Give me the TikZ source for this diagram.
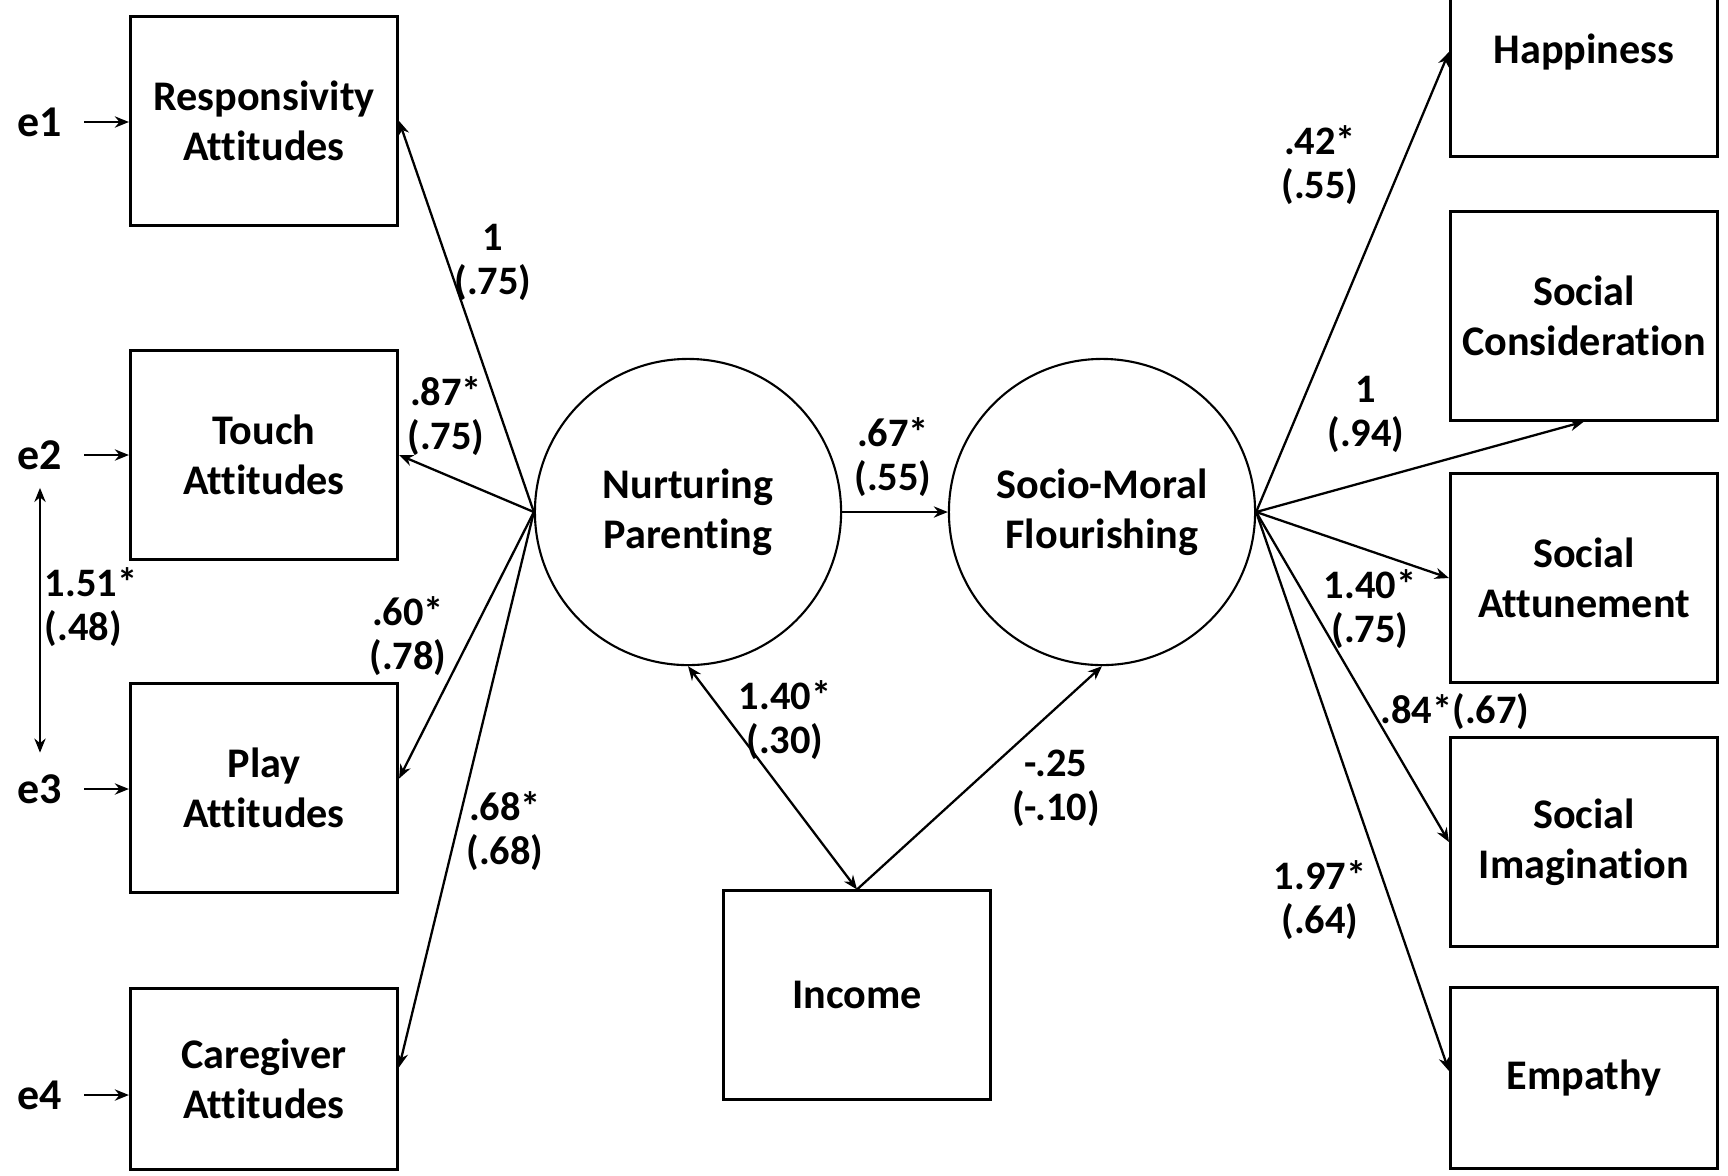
\documentclass[tikz,border=0pt]{standalone}
\usepackage{fontspec}
\setmainfont{Carlito}[Ligatures=NoCommon]
\usetikzlibrary{arrows.meta,calc}
\tikzset{
  obs/.style={draw, line width=0.85pt, minimum width=2.67cm, minimum height=2.08cm,
    inner sep=0pt, align=center, font=\fontsize{12}{14.3}\selectfont\bfseries},
  lat/.style={draw, circle, line width=0.6pt, minimum size=3.06cm,
    inner sep=0pt, align=center, font=\fontsize{12}{14.3}\selectfont\bfseries},
  err/.style={inner sep=2pt, font=\fontsize{12.5}{14}\selectfont\bfseries},
  lbl/.style={inner sep=0pt, align=center, font=\fontsize{11.5}{12.5}\selectfont\bfseries},
  arr/.style={line width=0.65pt, -{Stealth[length=4pt,width=3.2pt]}},
  dbl/.style={line width=0.65pt, {Stealth[length=4pt,width=3.2pt]}-{Stealth[length=4pt,width=3.2pt]}}
}
\begin{document}
\begin{tikzpicture}[x=0.01cm, y=-0.01cm]
    \useasboundingbox (0,0) rectangle (1728,1175);
    \clip (0,0) rectangle (1728,1175);

    % 左侧观测变量
    \node[obs] (resp) at (264,121) {Responsivity\\Attitudes};
    \node[obs] (touch) at (264,455) {Touch\\Attitudes};
    \node[obs] (play) at (264,788) {Play\\Attitudes};
    \node[obs, minimum height=1.8cm] (care) at (264,1079) {Caregiver\\Attitudes};

    % 误差项
    \node[err] (e1) at (40,122) {e1};
    \node[err] (e2) at (40,455) {e2};
    \node[err] (e3) at (40,789) {e3};
    \node[err] (e4) at (40,1095) {e4};
    \foreach \e/\b in {e1/resp, e2/touch, e3/play, e4/care}
        \draw[arr, shorten <=4pt] (\e) -- (\e -| \b.west);
    \draw[dbl, shorten <=3pt, shorten >=4pt] (e2.south) -- (e3.north);
    \node[lbl, anchor=west, align=left] (c23) at (44,607) {1.51*\\(.48)};

    % 潜变量
    \node[lat] (np) at (688,512) {Nurturing\\Parenting};
    \node[lat] (smf) at (1102,512) {Socio-Moral\\Flourishing};
    \draw[arr] (np.east) -- (smf.west);
    \node[lbl] (l67) at (893,457) {.67*\\(.55)};

    % 收入
    \node[obs] (inc) at (857,995) {Income};
    \draw[dbl] (np.south) -- (inc.north);
    \draw[arr] (inc.north) -- (smf.south);
    \node[lbl] (l140a) at (785,720) {1.40*\\(.30)};
    \node[lbl] (l25) at (1056,788) {-.25\\(-.10)};

    % 载荷（左）
    \draw[arr] (np.west) -- (resp.east);
    \draw[arr] (np.west) -- (touch.east);
    \draw[arr] (np.west) -- (play.4);
    \draw[arr] (np.west) -- (care.5);
    \node[lbl] (l1a) at (493,262) {1\\(.75)};
    \node[lbl] (l87) at (446,416) {.87*\\(.75)};
    \node[lbl] (l60) at (408,636) {.60*\\(.78)};
    \node[lbl] (l68) at (505,831) {.68*\\(.68)};

    % 右侧观测变量
    \node[obs] (happy) at (1584,52) {Happiness};
    \node[obs] (scons) at (1584,316) {Social\\Consideration};
    \node[obs] (satt) at (1584,578) {Social\\Attunement};
    \node[obs] (simag) at (1584,842) {Social\\Imagination};
    \node[obs, minimum height=1.8cm] (emp) at (1584,1078) {Empathy};

    % 载荷（右）
    \draw[arr] (smf.east) -- (happy.west);
    \draw[arr] (smf.east) -- (scons.south);
    \draw[arr] (smf.east) -- (satt.west);
    \draw[arr] (smf.east) -- (simag.west);
    \draw[arr] (smf.east) -- (emp.177);
    \node[lbl] (l42) at (1320,165) {.42*\\(.55)};
    \node[lbl] (l1b) at (1366,414) {1\\(.94)};
    \node[lbl] (l140b) at (1370,609) {1.40*\\(.75)};
    \node[lbl] (l84) at (1455,712) {.84*(.67)};
    \node[lbl] (l197) at (1320,900) {1.97*\\(.64)};
\end{tikzpicture}
\end{document}
